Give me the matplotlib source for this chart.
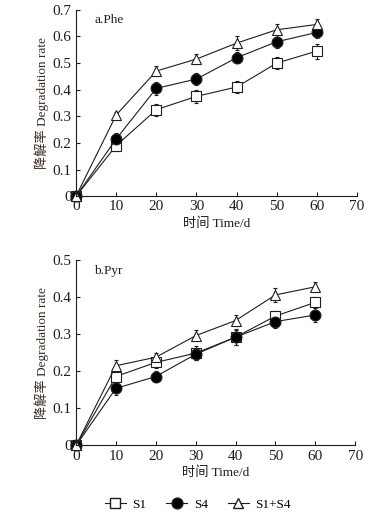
import matplotlib
matplotlib.use('Agg')
import matplotlib.pyplot as plt
from matplotlib.lines import Line2D

plt.rcParams['font.family'] = ['Liberation Serif', 'Noto Sans CJK SC']

days = [0, 10, 20, 30, 40, 50, 60]

# a. Phe
phe_s1 = [0, 0.19, 0.325, 0.375, 0.41, 0.50, 0.545]
phe_s4 = [0, 0.215, 0.405, 0.44, 0.52, 0.58, 0.615]
phe_s14 = [0, 0.305, 0.47, 0.515, 0.575, 0.625, 0.645]
phe_s1_err = [0, 0.02, 0.022, 0.025, 0.022, 0.024, 0.028]
phe_s4_err = [0, 0.022, 0.025, 0.022, 0.02, 0.025, 0.02]
phe_s14_err = [0, 0.012, 0.018, 0.02, 0.025, 0.02, 0.02]

# b. Pyr
pyr_s1 = [0, 0.186, 0.224, 0.249, 0.292, 0.349, 0.386]
pyr_s4 = [0, 0.154, 0.186, 0.246, 0.292, 0.334, 0.352]
pyr_s14 = [0, 0.215, 0.238, 0.296, 0.337, 0.406, 0.428]
pyr_s1_err = [0, 0.015, 0.015, 0.018, 0.02, 0.015, 0.015]
pyr_s4_err = [0, 0.018, 0.015, 0.015, 0.022, 0.016, 0.02]
pyr_s14_err = [0, 0.015, 0.012, 0.015, 0.016, 0.018, 0.012]

series_names = ['S1', 'S4', 'S1+S4']
markers = ['s', 'o', '^']
faces = ['white', 'black', 'white']
sizes = [7, 7.8, 7.8]
ink = '#1e1e1e'

fig = plt.figure(figsize=(3.84, 5.15), dpi=100)
ax1 = fig.add_axes([0.198, 0.619, 0.732, 0.362])
ax2 = fig.add_axes([0.198, 0.135, 0.727, 0.360])

def draw(ax, ys, errs, ymax, label):
    for y, e, m, fc, s in zip(ys, errs, markers, faces, sizes):
        ax.errorbar(days, y, yerr=e, color=ink, lw=0.8, marker=m,
                    mfc=fc, mec=ink, mew=0.8, ms=s,
                    capsize=1.2, elinewidth=0.8, capthick=0.8, clip_on=False)
    ax.set_xlim(0, 70)
    ax.set_ylim(0, ymax)
    ax.set_xticks(range(0, 71, 10))
    n = int(round(ymax * 10))
    ax.set_yticks([v / 10 for v in range(n + 1)])
    ax.set_yticklabels(['0'] + ['%.1f' % (v / 10) for v in range(1, n + 1)])
    ax.spines['top'].set_visible(False)
    ax.spines['right'].set_visible(False)
    ax.tick_params(direction='in', length=3, width=0.8, labelsize=11, pad=3,
                   colors=ink)
    for s in ['left', 'bottom']:
        ax.spines[s].set_linewidth(0.8)
        ax.spines[s].set_color(ink)
    ax.text(0.065, 0.975, label, transform=ax.transAxes, fontsize=9.5,
            ha='left', va='top', color=ink)
    ax.set_xlabel('时间 Time/d', fontsize=9.5, labelpad=3, color=ink)
    ax.set_ylabel('降解率 Degradation rate', fontsize=9.5, labelpad=3, color='#3a2a22')

draw(ax1, [phe_s1, phe_s4, phe_s14], [phe_s1_err, phe_s4_err, phe_s14_err], 0.7, 'a.Phe')
draw(ax2, [pyr_s1, pyr_s4, pyr_s14], [pyr_s1_err, pyr_s4_err, pyr_s14_err], 0.5, 'b.Pyr')

handles = [Line2D([], [], color=ink, lw=0.8, marker=m, mfc=fc, mec=ink, ms=s)
           for m, fc, s in zip(markers, faces, sizes)]
fig.legend(handles, series_names, loc='center', bbox_to_anchor=(0.515, 0.02),
           ncol=3, frameon=False, fontsize=9.5, handlelength=1.6, columnspacing=1.5,
           handletextpad=0.5)

fig.savefig('out.png', dpi=100)
